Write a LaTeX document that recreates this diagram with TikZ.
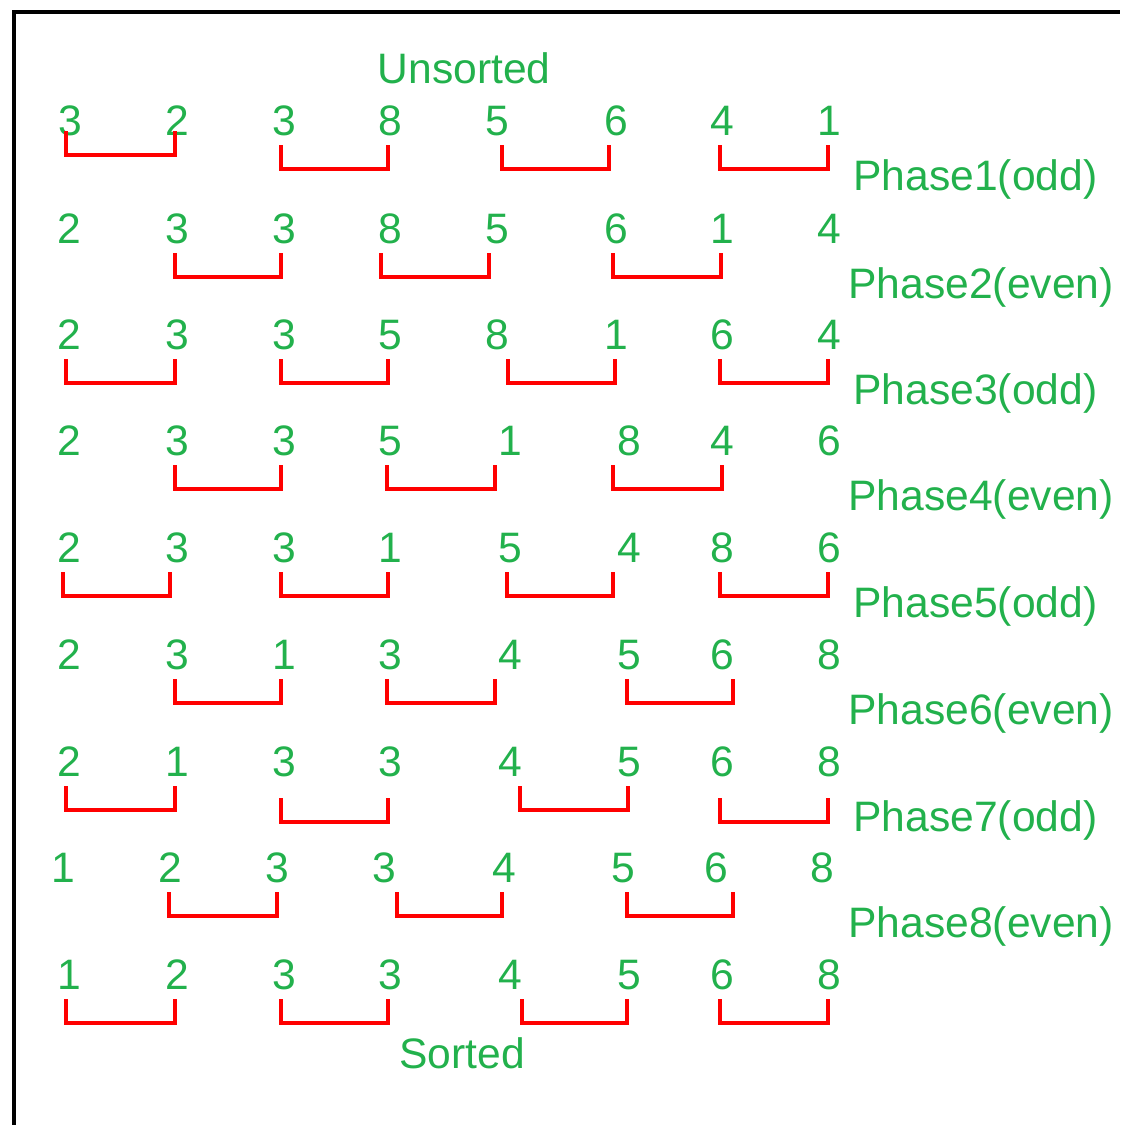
\documentclass[tikz,border=0pt]{standalone}
\usepackage{fontspec}
\setmainfont{Liberation Sans}
\usetikzlibrary{calc}
\definecolor{txtgreen}{RGB}{34,177,76}
\definecolor{cmpred}{RGB}{255,0,0}

\begin{document}
\begin{tikzpicture}[
x=0.5pt,
y=-0.5pt,
num/.style={
  text=txtgreen,
  inner sep=0pt,
  font=\fontsize{21.3}{25}\selectfont
  },
phaselbl/.style={
  num,
  anchor=base west
  },
cmp/.style={
  draw=cmpred,
  line width=2pt
  }
]
\useasboundingbox (0,0) rectangle (1120,1125);
\draw[line width=2pt] (14,1125) -- (14,12) -- (1120,12);

\node[num,anchor=base] (unsorted) at (464,83) {Unsorted};
\node[num,anchor=base] (sorted) at (462,1068) {Sorted};

% the nine rows of values
\foreach \xx/\v [count=\c] in {70/3,177/2,284/3,390/8,497/5,616/6,722/4,829/1}
  \node[num] (r1-\c) at (\xx,121) {\v};
\foreach \xx/\v [count=\c] in {69/2,177/3,284/3,390/8,497/5,616/6,722/1,829/4}
  \node[num] (r2-\c) at (\xx,229) {\v};
\foreach \xx/\v [count=\c] in {69/2,177/3,284/3,390/5,497/8,616/1,722/6,829/4}
  \node[num] (r3-\c) at (\xx,335) {\v};
\foreach \xx/\v [count=\c] in {69/2,177/3,284/3,390/5,510/1,629/8,722/4,829/6}
  \node[num] (r4-\c) at (\xx,441) {\v};
\foreach \xx/\v [count=\c] in {69/2,177/3,284/3,390/1,510/5,629/4,722/8,829/6}
  \node[num] (r5-\c) at (\xx,548) {\v};
\foreach \xx/\v [count=\c] in {69/2,177/3,284/1,390/3,510/4,629/5,722/6,829/8}
  \node[num] (r6-\c) at (\xx,655) {\v};
\foreach \xx/\v [count=\c] in {69/2,177/1,284/3,390/3,510/4,629/5,722/6,829/8}
  \node[num] (r7-\c) at (\xx,762) {\v};
\foreach \xx/\v [count=\c] in {63/1,170/2,277/3,384/3,504/4,623/5,716/6,822/8}
  \node[num] (r8-\c) at (\xx,868) {\v};
\foreach \xx/\v [count=\c] in {69/1,177/2,284/3,390/3,510/4,629/5,722/6,829/8}
  \node[num] (r9-\c) at (\xx,975) {\v};

% compare brackets: row/left/right/drop/left shift/right shift
\foreach \r/\a/\b/\t/\dl/\dr in {
  1/1/2/-5/-4/-2, 1/3/4/9/-3/-2, 1/5/6/9/5/-7, 1/7/8/9/-2/-1,
  2/2/3/9/-2/-3, 2/4/5/9/-9/-8, 2/6/7/9/-3/-1,
  3/1/2/9/-3/-2, 3/3/4/9/-3/-2, 3/5/6/9/11/-1, 3/7/8/9/-2/-1,
  4/2/3/9/-2/-3, 4/4/5/9/-3/-15, 4/6/7/9/-16/0,
  5/1/2/9/-6/-7, 5/3/4/9/-3/-2, 5/5/6/9/-3/-16, 5/7/8/9/-2/-1,
  6/2/3/9/-2/-3, 6/4/5/9/-3/-15, 6/6/7/9/-2/11,
  7/1/2/9/-3/-2, 7/3/4/21/-3/-2, 7/5/6/9/10/-1, 7/7/8/21/-2/-1,
  8/2/3/9/-1/0, 8/4/5/9/13/-2, 8/6/7/9/4/17,
  9/1/2/9/-3/-2, 9/3/4/9/-3/-2, 9/5/6/9/12/-2, 9/7/8/9/-2/-1}
  \draw[cmp] ($(r\r-\a.south)+(\dl,\t)$) -- ++(0,24) -| ($(r\r-\b.south)+(\dr,\t)$);

% phase names
\foreach \k/\xx/\yy/\kind in {1/853/190/odd,2/848/298/even,3/853/404/odd,4/848/510/even,
  5/853/617/odd,6/848/724/even,7/853/831/odd,8/848/937/even}
  \node[phaselbl] (ph\k) at (\xx,\yy) {Phase\k(\kind)};
\end{tikzpicture}
\end{document}
